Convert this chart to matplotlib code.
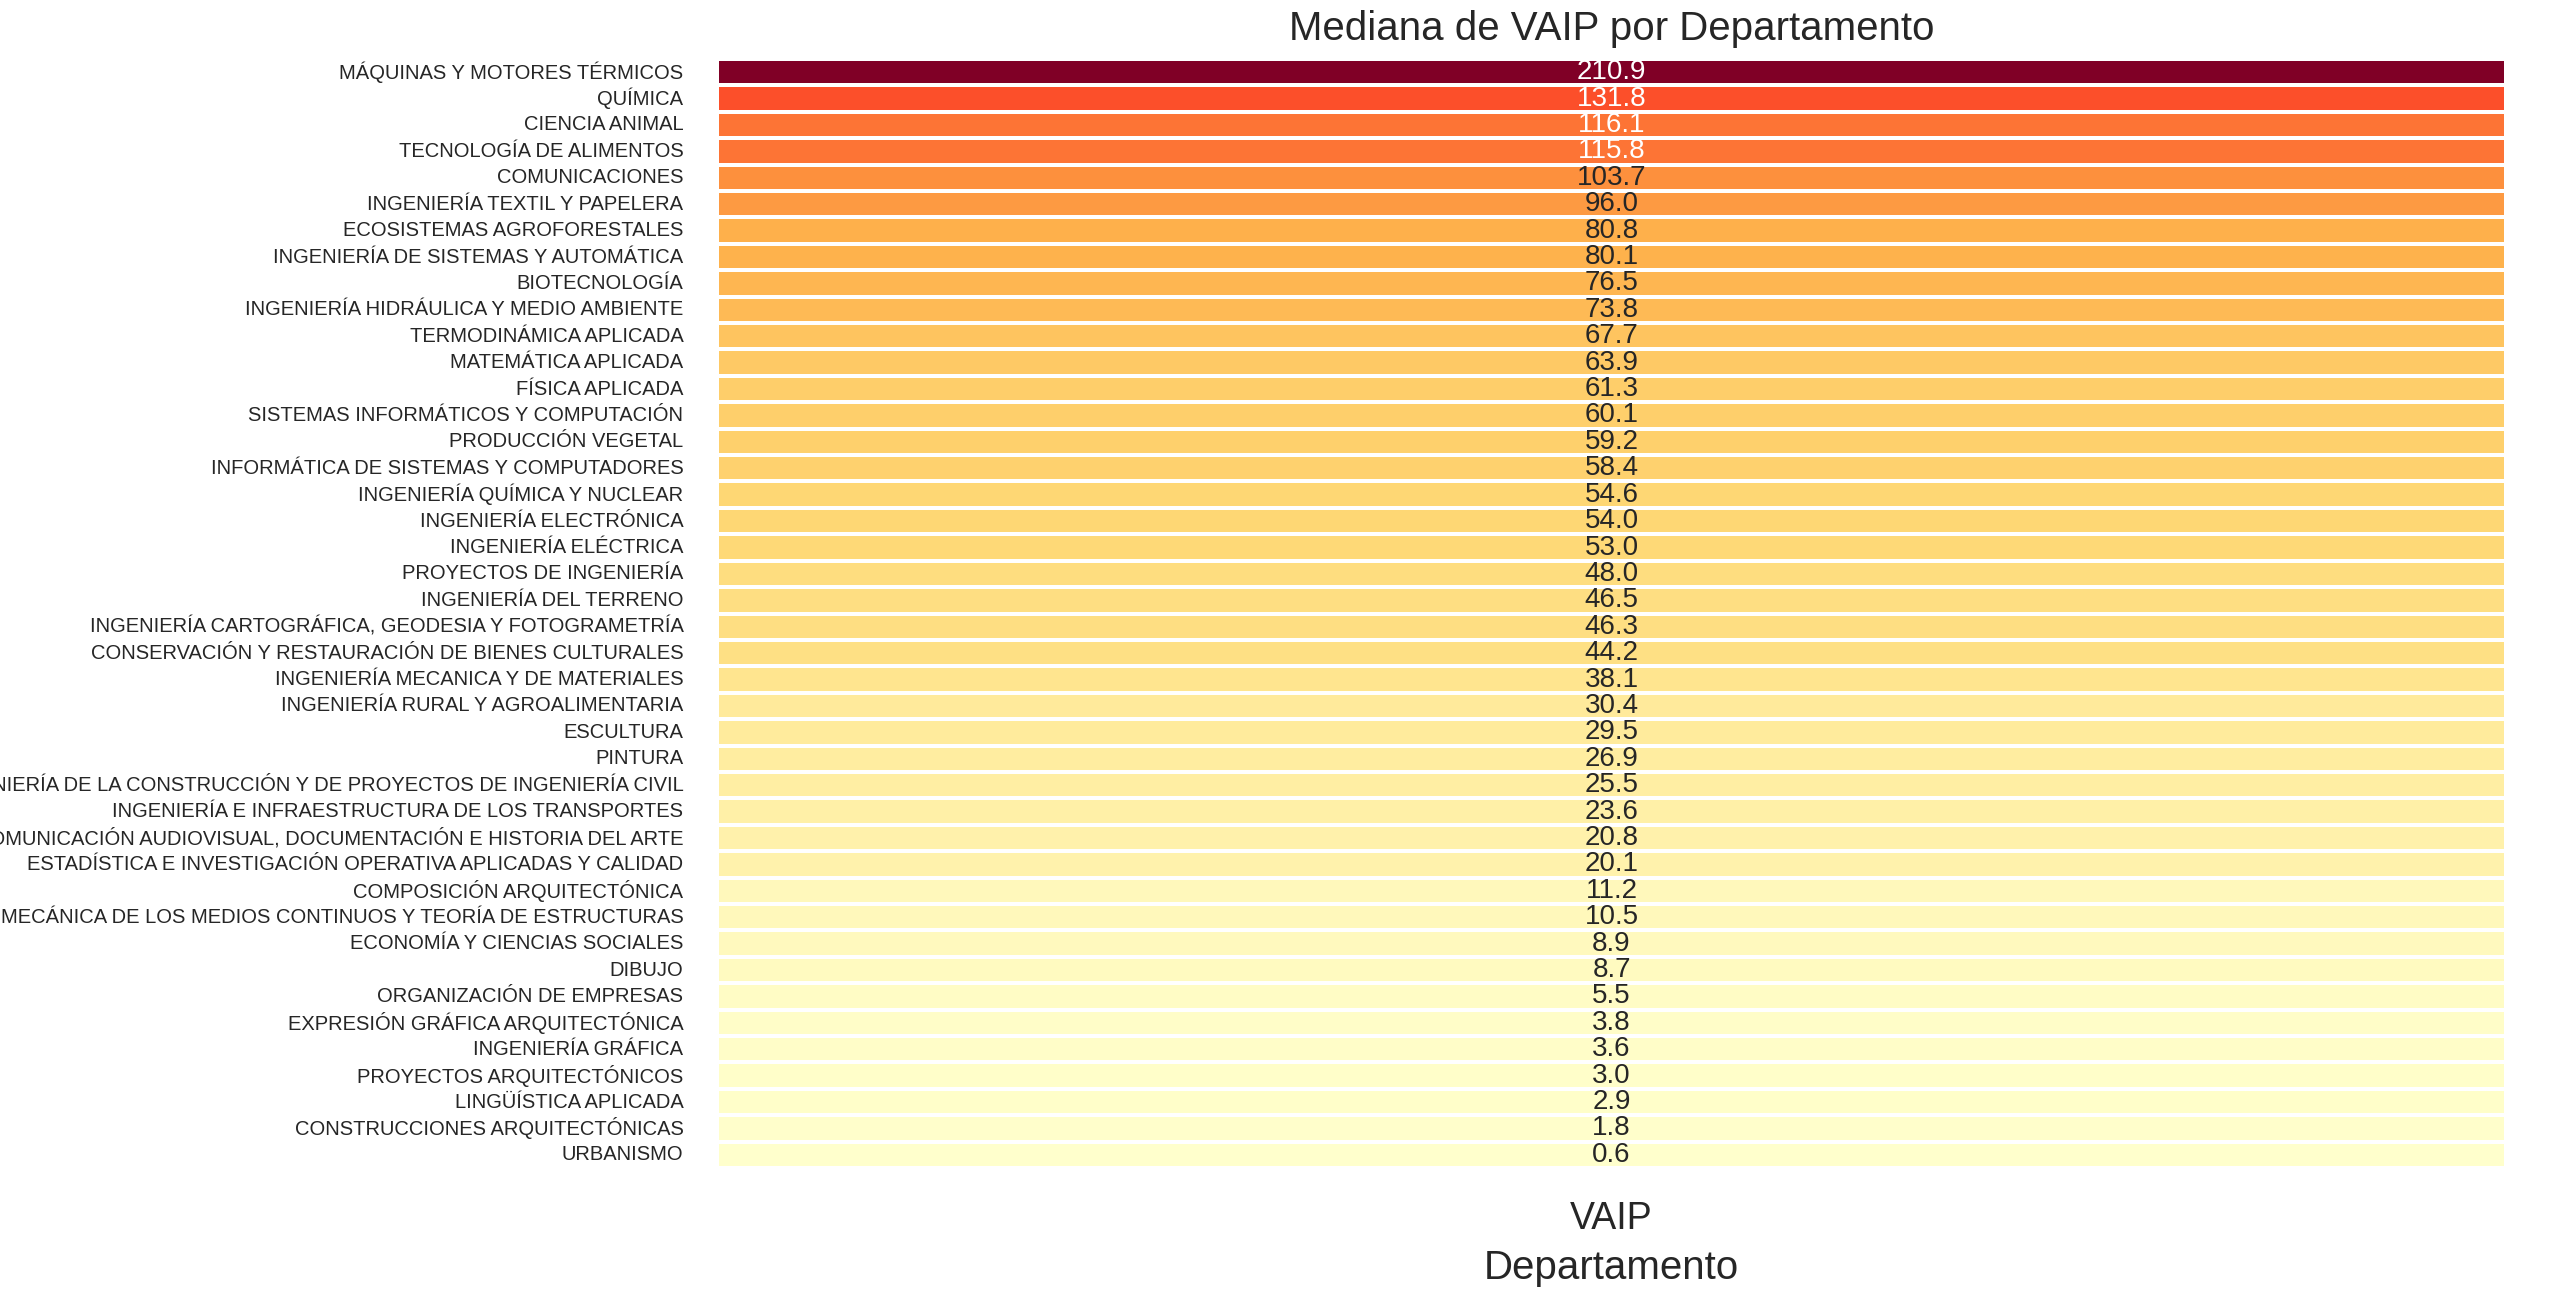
import numpy as np
import pandas as pd
import matplotlib
matplotlib.use('Agg')
import matplotlib.pyplot as plt
import seaborn as sns

# datos: mediana de VAIP por departamento
departamentos = [
    'MÁQUINAS Y MOTORES TÉRMICOS', 'QUÍMICA', 'CIENCIA ANIMAL', 'TECNOLOGÍA DE ALIMENTOS',
    'COMUNICACIONES', 'INGENIERÍA TEXTIL Y PAPELERA', 'ECOSISTEMAS AGROFORESTALES',
    'INGENIERÍA DE SISTEMAS Y AUTOMÁTICA', 'BIOTECNOLOGÍA', 'INGENIERÍA HIDRÁULICA Y MEDIO AMBIENTE',
    'TERMODINÁMICA APLICADA', 'MATEMÁTICA APLICADA', 'FÍSICA APLICADA',
    'SISTEMAS INFORMÁTICOS Y COMPUTACIÓN', 'PRODUCCIÓN VEGETAL',
    'INFORMÁTICA DE SISTEMAS Y COMPUTADORES', 'INGENIERÍA QUÍMICA Y NUCLEAR',
    'INGENIERÍA ELECTRÓNICA', 'INGENIERÍA ELÉCTRICA', 'PROYECTOS DE INGENIERÍA',
    'INGENIERÍA DEL TERRENO', 'INGENIERÍA CARTOGRÁFICA, GEODESIA Y FOTOGRAMETRÍA',
    'CONSERVACIÓN Y RESTAURACIÓN DE BIENES CULTURALES', 'INGENIERÍA MECANICA Y DE MATERIALES',
    'INGENIERÍA RURAL Y AGROALIMENTARIA', 'ESCULTURA', 'PINTURA',
    'INGENIERÍA DE LA CONSTRUCCIÓN Y DE PROYECTOS DE INGENIERÍA CIVIL',
    'INGENIERÍA E INFRAESTRUCTURA DE LOS TRANSPORTES',
    'COMUNICACIÓN AUDIOVISUAL, DOCUMENTACIÓN E HISTORIA DEL ARTE',
    'ESTADÍSTICA E INVESTIGACIÓN OPERATIVA APLICADAS Y CALIDAD',
    'COMPOSICIÓN ARQUITECTÓNICA',
    'MECÁNICA DE LOS MEDIOS CONTINUOS Y TEORÍA DE ESTRUCTURAS',
    'ECONOMÍA Y CIENCIAS SOCIALES', 'DIBUJO', 'ORGANIZACIÓN DE EMPRESAS',
    'EXPRESIÓN GRÁFICA ARQUITECTÓNICA', 'INGENIERÍA GRÁFICA', 'PROYECTOS ARQUITECTÓNICOS',
    'LINGÜÍSTICA APLICADA', 'CONSTRUCCIONES ARQUITECTÓNICAS', 'URBANISMO',
]
vaip = [210.9, 131.8, 116.1, 115.8, 103.7, 96.0, 80.8, 80.1, 76.5, 73.8,
        67.7, 63.9, 61.3, 60.1, 59.2, 58.4, 54.6, 54.0, 53.0, 48.0,
        46.5, 46.3, 44.2, 38.1, 30.4, 29.5, 26.9, 25.5, 23.6, 20.8,
        20.1, 11.2, 10.5, 8.9, 8.7, 5.5, 3.8, 3.6, 3.0, 2.9, 1.8, 0.6]

sns.set_theme(style='white')
plt.rcParams['font.family'] = ['Liberation Sans', 'DejaVu Sans']
plt.rcParams['text.color'] = '#262626'

df = pd.DataFrame({'VAIP': vaip}, index=departamentos)
df.index.name = None

fig = plt.figure(figsize=(25.6, 12.99), dpi=100)
ax = fig.add_axes([0.280, 0.1008, 0.699, 0.8538])

sns.heatmap(df, ax=ax, cmap='YlOrRd', annot=True, fmt='.1f', cbar=False,
            linewidths=1.5, linecolor='white', annot_kws={'size': 20})

ax.set_title('Mediana de VAIP por Departamento', fontsize=29, pad=14, color='#262626')
ax.set_xlabel('Departamento', fontsize=29, labelpad=8.5, color='#262626')
ax.set_ylabel('')
ax.tick_params(axis='y', labelsize=14.5, length=0, pad=24, labelcolor='#262626')
ax.tick_params(axis='x', labelsize=27, length=0, pad=24, labelcolor='#262626')
plt.setp(ax.get_yticklabels(), rotation=0)

plt.savefig('out.png', dpi=100)
plt.close('all')
